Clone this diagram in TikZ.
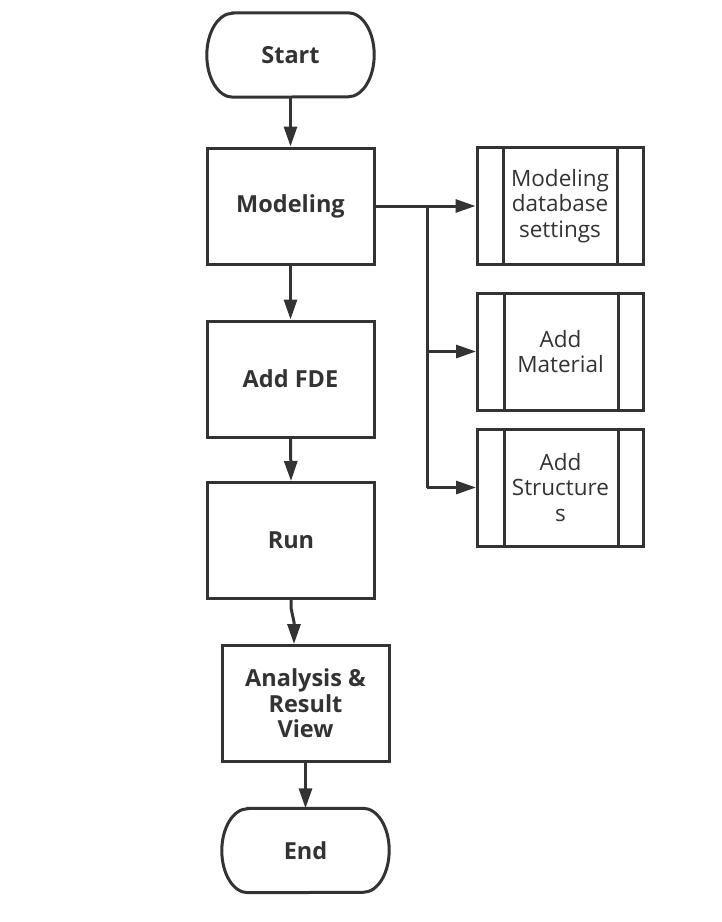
\documentclass[tikz,border=0pt]{standalone}
\usepackage{fontspec}
\setmainfont{Open Sans}
\usetikzlibrary{arrows.meta,calc}
\definecolor{ink}{HTML}{333333}
\tikzset{
  box/.style={draw=ink, line width=3pt, minimum width=167pt, minimum height=116pt, inner sep=0pt, align=center, font=\bfseries\fontsize{23.5}{25.5}\selectfont, text=ink},
  term/.style={draw=none, minimum width=167pt, minimum height=84pt, inner sep=0pt, align=center, font=\bfseries\fontsize{23.5}{25.5}\selectfont, text=ink},
  subbox/.style={draw=ink, line width=3pt, minimum width=166pt, minimum height=117pt, inner sep=0pt, align=center, font=\fontsize{22.5}{25.5}\selectfont, text=ink},
  conn/.style={draw=ink, line width=3pt, -{Triangle[length=20pt,width=13pt]}},
  line/.style={draw=ink, line width=3pt},
}
\newcommand{\termshape}[1]{%
  \draw[line width=3pt, draw=ink] ([xshift=26pt]#1.north west) -- ([xshift=-26pt]#1.north east)
    arc[start angle=90, end angle=-90, x radius=26pt, y radius=42pt]
    -- ([xshift=26pt]#1.south west)
    arc[start angle=270, end angle=90, x radius=26pt, y radius=42pt] -- cycle;}
\begin{document}
\begin{tikzpicture}[x=1pt,y=-1pt]
\useasboundingbox[fill=white] (0,0) rectangle (721,922);
% left column
\node[term] (start) at (290.5,55) {Start};
\termshape{start}
\node[box] (model) at (290.5,206) {Modeling};
\node[box] (fde) at (290.5,379) {Add FDE};
\node[box] (run) at (291,540.5) {Run};
\node[box] (ana) at (305.5,703.5) {Analysis \&\\Result\\View};
\node[term] (end) at (305.5,850.5) {End};
\termshape{end}
% right column
\node[subbox] (db) at (560,206) {Modeling\\database\\settings};
\node[subbox] (mat) at (560.5,351.5) {Add\\Material};
\node[subbox] (str) at (560.5,487.5) {Add\\Structure\\s};
\foreach \n in {db,mat,str}{
  \draw[line] ([xshift=28pt]\n.north west) -- ([xshift=28pt]\n.south west);
  \draw[line] ([xshift=-27pt]\n.north east) -- ([xshift=-27pt]\n.south east);
}
% connectors
\draw[conn] (start.south) -- (model.north);
\draw[conn] (model.south) -- (fde.north);
\draw[conn] (fde.south) -- (run.north);
\coordinate (j1) at (291,608);
\coordinate (j2) at (294,622);
\draw[conn] (run.south) -- (j1) -- (j2) -- (j2 |- ana.north);
\draw[conn] (ana.south) -- (end.north);
\draw[conn] (model.east) -- (db.west);
\coordinate (br) at (427,206);
\draw[line] (br) -- (br |- str.west);
\draw[conn] (br |- mat.west) -- (mat.west);
\draw[conn] (br |- str.west) -- (str.west);
\end{tikzpicture}
\end{document}
